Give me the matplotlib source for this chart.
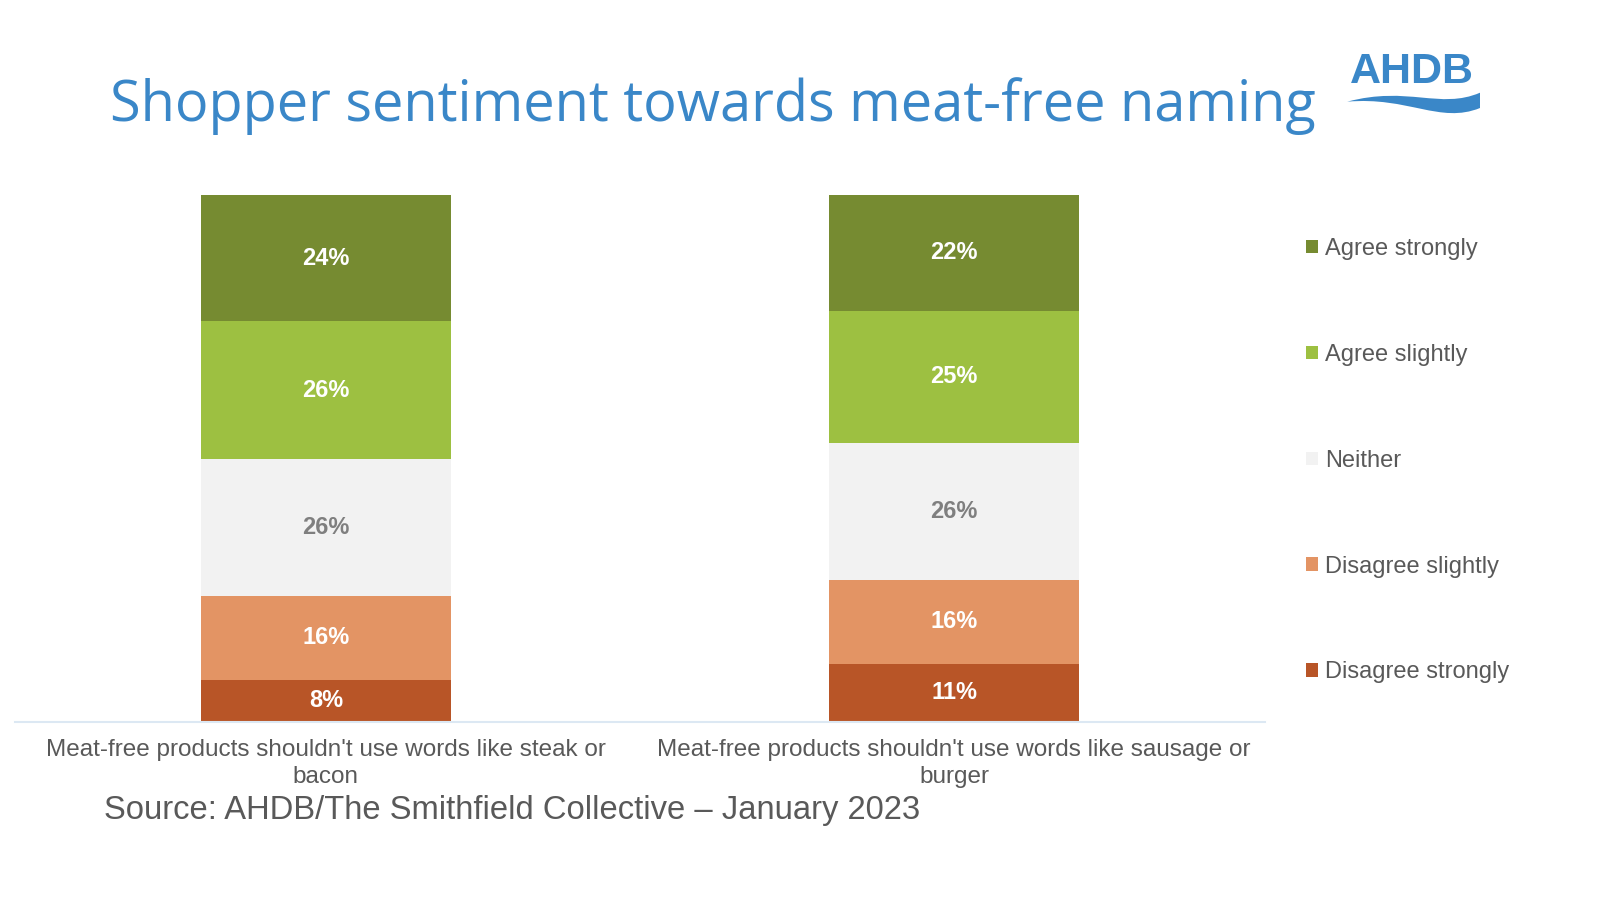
import matplotlib.pyplot as plt
import numpy as np
from matplotlib.patches import PathPatch
from matplotlib.path import Path

# survey data, stacked bottom to top
categories = ["Meat-free products shouldn't use words like steak or\nbacon",
              "Meat-free products shouldn't use words like sausage or\nburger"]
segments = ["Disagree strongly", "Disagree slightly", "Neither", "Agree slightly", "Agree strongly"]
disagree_strongly = [8, 11]
disagree_slightly = [16, 16]
neither = [26, 26]
agree_slightly = [26, 25]
agree_strongly = [24, 22]

colors = ["#b85527", "#e39464", "#f2f2f2", "#9dc041", "#768b31"]
label_colors = ["white", "white", "#7f7f7f", "white", "white"]

plt.rcParams['font.family'] = ['Liberation Sans', 'DejaVu Sans']

fig = plt.figure(figsize=(16, 9), dpi=100)
ax = fig.add_axes([0.0094, 0.1978, 0.7812, 0.5855])

x = np.arange(len(categories))
bottom = np.zeros(len(categories))
series = [disagree_strongly, disagree_slightly, neither, agree_slightly, agree_strongly]
for name, vals, col, lc in zip(segments, series, colors, label_colors):
    bars = ax.bar(x, vals, width=0.398, bottom=bottom, color=col, label=name)
    for xi, b, v in zip(x, bottom, vals):
        ax.text(xi, b + v / 2, "{}%".format(v), ha='center', va='center',
                color=lc, fontsize=17, fontweight='bold')
    bottom += np.array(vals)

ax.set_xlim(-0.495, 1.495)
ax.set_ylim(0, 100)
ax.set_yticks([])
ax.set_xticks(x)
ax.set_xticklabels(categories, fontsize=17.5, color="#595959", linespacing=1.3)
ax.tick_params(axis='x', length=0, pad=12)
for s in ['top', 'right', 'left']:
    ax.spines[s].set_visible(False)
ax.spines['bottom'].set_color("#dce8f3")
ax.spines['bottom'].set_linewidth(1.5)

leg = fig.legend(loc='upper left', bbox_to_anchor=(0.803, 0.759), reverse=True,
                 frameon=False, fontsize=17, labelspacing=3.55,
                 handlelength=0.5, handleheight=0.5, handletextpad=0.3,
                 labelcolor="#595959")

fig.text(0.069, 0.882, "Shopper sentiment towards meat-free naming", fontsize=40.2,
         color="#3a87c8", family=['Open Sans', 'DejaVu Sans'], va='center', ha='left')

# AHDB logo
fig.text(0.8435, 0.92, "AHDB", fontsize=31, fontweight='bold', color="#3a87c8",
         va='center', ha='left', family=['Liberation Sans'])
verts = [(0.842, 0.887), (0.88, 0.905), (0.90, 0.878), (0.925, 0.897),
         (0.925, 0.880), (0.90, 0.862), (0.88, 0.893), (0.842, 0.887)]
codes = [Path.MOVETO, Path.CURVE4, Path.CURVE4, Path.CURVE4,
         Path.LINETO, Path.CURVE4, Path.CURVE4, Path.CURVE4]
fig.patches.append(PathPatch(Path(verts, codes), transform=fig.transFigure,
                             facecolor="#3a87c8", edgecolor='none'))

fig.text(0.065, 0.099, "Source: AHDB/The Smithfield Collective \u2013 January 2023",
         fontsize=23.6, color="#595959", va='center', ha='left')

fig.savefig("out.png", dpi=100, facecolor='white')
